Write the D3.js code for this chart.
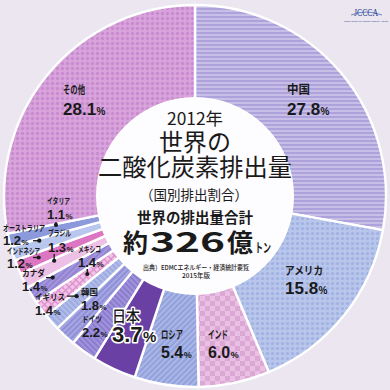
<!DOCTYPE html>
<html><head><meta charset="utf-8">
<script src="https://cdn.jsdelivr.net/npm/d3@7/dist/d3.min.js"></script>
<style>body{margin:0;background:#ebe6f0;}svg{display:block}</style>
</head><body>
<script>
// ---- data ----
const categories = ["中国","アメリカ","インド","ロシア","日本","ドイツ","韓国","イギリス","メキシコ","カナダ","ブラジル","インドネシア","オーストラリア","イタリア","その他"];
const values = [27.8,15.8,6.0,5.4,3.7,2.2,1.8,1.4,1.4,1.4,1.3,1.2,1.2,1.1,28.1];
const titleLines = ["2012年","世界の","二酸化炭素排出量","（国別排出割合）"];
const totalLabel = "世界の排出量合計";
const totalParts = ["約","326","億","トン"];
const sourceLines = ["出典）EDMCエネルギー・経済統計要覧","2015年版"];

// ---- styles (patterns) ----
const patterns = {
 "中国":{t:"h",b:"#c8bfe7",i:"#ada2dc",p:4},
 "アメリカ":{t:"dot",b:"#b8c6ec",i:"#a0b1e2",p:5,r:1.6},
 "インド":{t:"chk",b:"#e9bfe3",i:"#dba7d5",p:10},
 "ロシア":{t:"d",b:"#a9b6e6",i:"#92a1dc",p:4,a:45},
 "日本":{t:"s",b:"#6b40a5"},
 "ドイツ":{t:"d",b:"#a193da",i:"#8b7cd0",p:4,a:-45},
 "韓国":{t:"d",b:"#a6a7e2",i:"#8f8fd7",p:4,a:45},
 "イギリス":{t:"d",b:"#b1bde8",i:"#9dabe0",p:4,a:-45},
 "メキシコ":{t:"x",b:"#efc6e8",i:"#df8fcd",p:7},
 "カナダ":{t:"d",b:"#a596dc",i:"#9182d3",p:4,a:45},
 "ブラジル":{t:"s",b:"#edc0e6"},
 "インドネシア":{t:"s",b:"#dc76c2"},
 "オーストラリア":{t:"s",b:"#b9c6ee"},
 "イタリア":{t:"s",b:"#8c99da"},
 "その他":{t:"dot",b:"#d8a4db",i:"#c88bcf",p:5,r:1.7}
};

// label layout: x, name baseline, value baseline, sizes, name width
const labelLayout = {
 "中国":{x:287,yn:94,yv:115,ns:12,nw:23,vs:17,ps:10},
 "その他":{x:63,yn:94,yv:115,ns:11,nw:22,vs:17,ps:10},
 "アメリカ":{x:285,yn:275,yv:294,ns:11,nw:38,vs:17,ps:10},
 "インド":{x:208,yn:339,yv:358,ns:11,nw:20,vs:16,ps:9},
 "ロシア":{x:161,yn:339,yv:358,ns:11,nw:22,vs:16,ps:9},
 "日本":{x:112,yn:322,yv:342,ns:16,nw:28,vs:22,ps:15,halo:true},
 "ドイツ":{x:82,yn:322,yv:337,ns:8.5,nw:20,vs:13,ps:8},
 "韓国":{x:81,yn:295,yv:310,ns:8.5,nw:17,vs:13,ps:8},
 "イギリス":{x:35,yn:300,yv:315,ns:8.5,nw:30,vs:13,ps:8},
 "カナダ":{x:22,yn:276,yv:291,ns:8.5,nw:23,vs:13,ps:8},
 "メキシコ":{x:78,yn:252,yv:267,ns:8.5,nw:23,vs:13,ps:8},
 "インドネシア":{x:7,yn:254,yv:268,ns:8.5,nw:33,vs:13,ps:8},
 "オーストラリア":{x:3,yn:231,yv:245,ns:8.5,nw:42,vs:13,ps:8},
 "ブラジル":{x:48,yn:236,yv:252,ns:8.5,nw:23,vs:13,ps:8},
 "イタリア":{x:47,yn:204,yv:219,ns:8.5,nw:23,vs:13,ps:8}
};
// leaders: t = position within wedge, r = radius, dir, start coordinate
const leaders = {
 "イギリス":{t:0.71,r:155,dir:"h",s:67},
 "メキシコ":{t:0.57,r:133,dir:"v",s:269},
 "カナダ":{t:0.77,r:164,dir:"h",s:46},
 "ブラジル":{t:0.85,r:155,dir:"v",s:254},
 "インドネシア":{t:0.58,r:168,dir:"h",s:33},
 "オーストラリア":{t:0.84,r:162,dir:"h",s:33},
 "イタリア":{t:0.9,r:142,dir:"v",s:222}
};

const W=390,H=390,cx=195,cy=196,R=191,r0=97;
const svg=d3.select("body").append("svg").attr("width",W).attr("height",H);
svg.append("rect").attr("width",W).attr("height",H).attr("fill","#ebe6f0");
const defs=svg.append("defs");
categories.forEach((c,k)=>{
  const s=patterns[c];
  const id="pt"+k;
  if(s.t==="s") return;
  const p=defs.append("pattern").attr("id",id).attr("patternUnits","userSpaceOnUse")
    .attr("width",s.p).attr("height",s.p);
  p.append("rect").attr("width",s.p).attr("height",s.p).attr("fill",s.b);
  if(s.t==="h"){p.append("rect").attr("width",s.p).attr("height",s.p/2).attr("fill",s.i);}
  if(s.t==="d"){p.attr("patternTransform","rotate("+s.a+")");
    p.append("rect").attr("width",s.p/2).attr("height",s.p).attr("fill",s.i);}
  if(s.t==="dot"){p.append("circle").attr("cx",s.p/2).attr("cy",s.p/2).attr("r",s.r).attr("fill",s.i);}
  if(s.t==="chk"){p.append("rect").attr("width",s.p/2).attr("height",s.p/2).attr("fill",s.i);
    p.append("rect").attr("x",s.p/2).attr("y",s.p/2).attr("width",s.p/2).attr("height",s.p/2).attr("fill",s.i);}
  if(s.t==="x"){p.append("path").attr("d",`M0,0L${s.p},${s.p}M${s.p},0L0,${s.p}`).attr("stroke",s.i).attr("stroke-width",1.3);}
});
const fillOf=(c,k)=>patterns[c].t==="s"?patterns[c].b:"url(#pt"+k+")";

const pie=d3.pie().sort(null).value(d=>d.v);
const data=categories.map((c,k)=>({c,k,v:values[k]}));
const arcs=pie(data);
const arc=d3.arc().innerRadius(r0).outerRadius(R);
const g=svg.append("g").attr("transform",`translate(${cx},${cy})`);
g.selectAll("path.w").data(arcs).join("path").attr("class","w")
  .attr("d",arc).attr("fill",d=>fillOf(d.data.c,d.data.k))
  .attr("stroke","#ffffff").attr("stroke-width",2.4).attr("stroke-linejoin","round");
g.append("circle").attr("r",r0+1).attr("fill","#fdfcfe").attr("stroke","#ffffff").attr("stroke-width",2);

// leaders
const lg=svg.append("g");
arcs.forEach(a=>{
  const L=leaders[a.data.c]; if(!L) return;
  const ang=a.startAngle+(a.endAngle-a.startAngle)*L.t;
  const px=cx+L.r*Math.sin(ang), py=cy-L.r*Math.cos(ang);
  const x1=L.dir==="h"?L.s:px, y1=L.dir==="h"?py:L.s;
  lg.append("line").attr("x1",x1).attr("y1",y1).attr("x2",px).attr("y2",py)
    .attr("stroke","#1a1a1a").attr("stroke-width",1.3);
  lg.append("circle").attr("cx",px).attr("cy",py).attr("r",2.1).attr("fill","#1a1a1a");
});

// labels
const JP="'Noto Sans CJK JP','Noto Sans',sans-serif";
const NUM="'Liberation Sans Narrow','Liberation Sans',Arial,sans-serif";
const lab=svg.append("g");
categories.forEach((c,k)=>{
  const L=labelLayout[c];
  const halo=t=>{ if(L.halo) t.attr("stroke","#ffffff").attr("stroke-width",3.2).attr("paint-order","stroke").attr("stroke-linejoin","round"); return t;};
  halo(lab.append("text").attr("x",L.x).attr("y",L.yn).attr("font-family",JP)
    .attr("font-weight",L.halo?500:700).attr("font-size",L.ns).attr("fill","#1a1a1a")
    .attr("textLength",L.nw).attr("lengthAdjust","spacingAndGlyphs").text(c));
  const v=halo(lab.append("text").attr("x",L.x).attr("y",L.yv).attr("fill","#1a1a1a")
    .attr("font-family",NUM).attr("font-weight",700));
  v.append("tspan").attr("font-size",L.vs).text(values[k].toFixed(1));
  v.append("tspan").attr("font-size",L.ps).attr("dx",0.5).text("%");
});

// centre text
const ct=svg.append("g").attr("fill","#1a1a1a").attr("font-family",JP).attr("text-anchor","middle");
ct.append("text").attr("x",cx).attr("y",125).attr("font-size",17).attr("font-weight",400)
  .attr("textLength",56).attr("lengthAdjust","spacingAndGlyphs").text(titleLines[0]);
ct.append("text").attr("x",cx).attr("y",151).attr("font-size",24).attr("font-weight",400).text(titleLines[1]);
ct.append("text").attr("x",cx).attr("y",176).attr("font-size",24).attr("font-weight",400)
  .attr("textLength",194).attr("lengthAdjust","spacingAndGlyphs").text(titleLines[2]);
ct.append("text").attr("x",cx-1).attr("y",200).attr("font-size",14).attr("font-weight",400)
  .attr("textLength",108).attr("lengthAdjust","spacingAndGlyphs").text(titleLines[3]);
ct.append("text").attr("x",cx).attr("y",223).attr("font-size",14.5).attr("font-weight",700)
  .attr("textLength",116).attr("lengthAdjust","spacingAndGlyphs").text(totalLabel);
const tp=[{x:123,w:25,s:25},{x:150,w:75,s:27},{x:227,w:26,s:25},{x:255,w:16,s:13}];
const tt=svg.append("text").attr("y",252).attr("font-family",JP).attr("font-weight",700).attr("fill","#1a1a1a");
totalParts.forEach((t,i)=>{
  tt.append("tspan").attr("x",tp[i].x).attr("y",252).attr("font-size",tp[i].s)
    .attr("textLength",tp[i].w).attr("lengthAdjust","spacingAndGlyphs").text(t);
});
const st=ct.append("text").attr("font-size",6.5).attr("font-weight",500);
st.append("tspan").attr("x",cx+1).attr("y",270).attr("textLength",106).attr("lengthAdjust","spacingAndGlyphs").text(sourceLines[0]);
st.append("tspan").attr("x",cx+1).attr("y",278).text(sourceLines[1]);

// logo
const lo=svg.append("g");
lo.append("path").attr("d","M351,15 Q366,9 382,15").attr("fill","none").attr("stroke","#4a6cc0").attr("stroke-width",0.8);
lo.append("text").attr("x",366).attr("y",16).attr("text-anchor","middle").attr("font-family","'Liberation Serif',serif")
  .attr("font-size",10).attr("fill","#27408f").attr("textLength",24).attr("lengthAdjust","spacingAndGlyphs").text("JCCCA");
lo.append("text").attr("x",366).attr("y",21.5).attr("text-anchor","middle").attr("font-family",NUM)
  .attr("font-size",2.4).attr("fill","#27408f").text("Japan Center for Climate Change Actions");
</script>
</body></html>
